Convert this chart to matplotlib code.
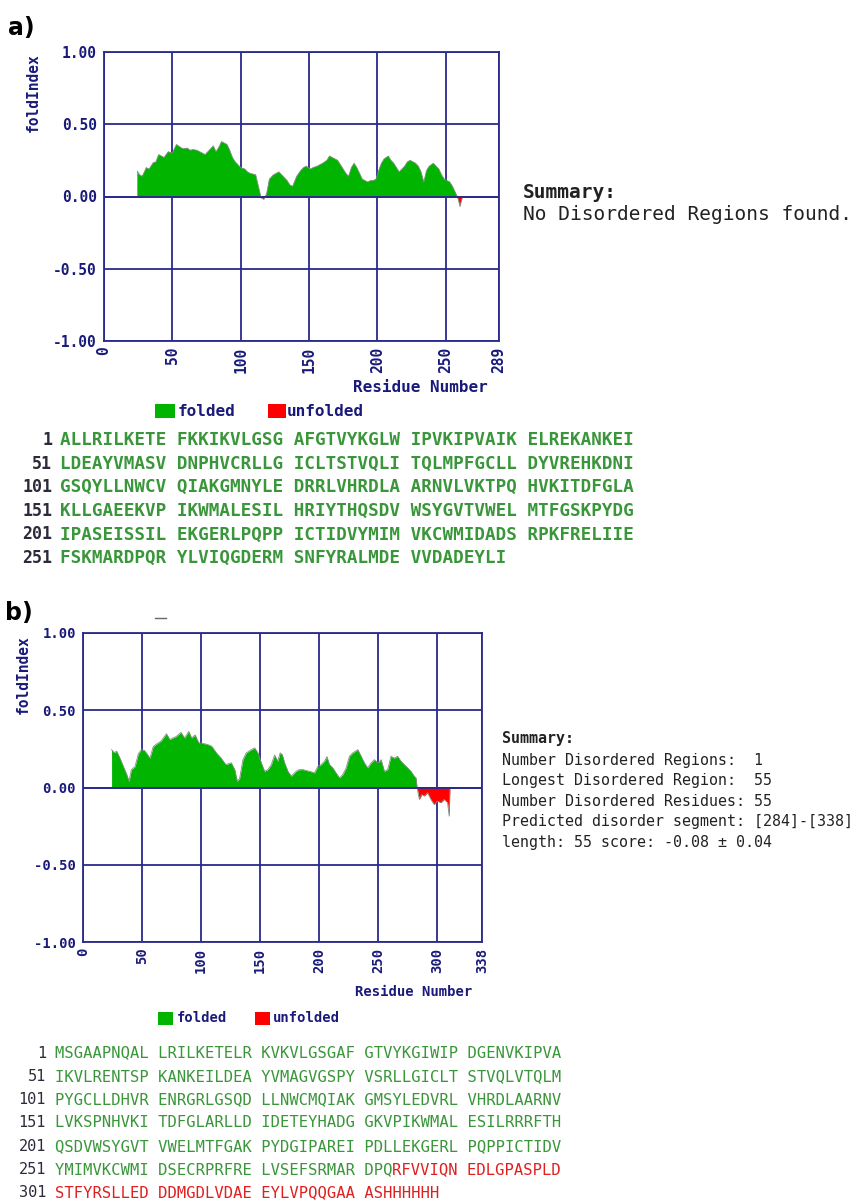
import matplotlib
matplotlib.use("Agg")
import matplotlib.pyplot as plt
import numpy as np
from matplotlib.patches import Rectangle
from matplotlib.lines import Line2D

W, H = 863, 1200
NAVY = "#2a2a8c"
TICK_NAVY = "#1a1a7a"
GREEN_FILL = "#00b400"
RED_FILL = "#ff0000"
SEQ_GREEN = "#3a963a"
SEQ_RED = "#e02020"
NUM_COLOR = "#2b2b3b"
MONO = "DejaVu Sans Mono"
MONO_ADVANCE = 1233 / 2048  # DejaVu Sans Mono glyph advance, in em

# ---- panel a: foldIndex profile ----
a_res = [24.4, 26, 28, 31, 33, 36, 38, 40, 42, 44, 47, 50, 53, 56, 58, 61, 63, 65, 68, 70,
         72, 74, 76, 78, 80, 82, 84, 86, 88, 90, 92, 94, 96, 98, 100, 103, 105, 107, 109, 111,
         113, 115, 117, 119, 121, 124, 126, 128, 130, 132, 134, 136, 138, 141, 144, 146, 148,
         151, 153, 156, 158, 160, 163, 165, 167, 169, 171, 173, 175, 177, 179, 181, 183, 185,
         187, 189, 191, 193, 195, 197, 199, 201, 203, 205, 208, 210, 212, 214, 216, 218, 220,
         222, 224, 226, 228, 230, 232, 234, 236, 238, 241, 243, 245, 247, 249, 251, 253, 255,
         257, 258.5, 259.5, 260.5, 261.5, 262.5]
a_val = [0.175, 0.15, 0.14, 0.20, 0.19, 0.233, 0.24, 0.29, 0.28, 0.27, 0.31, 0.30, 0.36, 0.34,
         0.33, 0.335, 0.32, 0.325, 0.32, 0.31, 0.30, 0.29, 0.31, 0.33, 0.35, 0.31, 0.34, 0.38,
         0.37, 0.36, 0.32, 0.27, 0.24, 0.22, 0.20, 0.19, 0.17, 0.16, 0.155, 0.15, 0.07, -0.01,
         -0.02, 0.02, 0.12, 0.15, 0.16, 0.17, 0.15, 0.13, 0.11, 0.08, 0.07, 0.14, 0.18, 0.20,
         0.21, 0.19, 0.20, 0.21, 0.22, 0.23, 0.25, 0.28, 0.27, 0.26, 0.25, 0.22, 0.19, 0.16,
         0.14, 0.20, 0.23, 0.20, 0.16, 0.12, 0.11, 0.10, 0.11, 0.11, 0.12, 0.18, 0.23, 0.26,
         0.28, 0.25, 0.23, 0.20, 0.17, 0.19, 0.21, 0.24, 0.25, 0.24, 0.23, 0.21, 0.17, 0.10,
         0.18, 0.21, 0.23, 0.21, 0.19, 0.15, 0.12, 0.11, 0.10, 0.07, 0.03, 0.0, -0.03, -0.07,
         -0.03, 0.0]

# ---- panel b: foldIndex profile ----
b_res = [24.2, 26.5, 28.5, 31.3, 34, 37, 39, 41, 44, 47, 49.6, 52, 54, 56.7, 59.5, 62, 64, 66,
         68, 70.7, 73.5, 76, 79, 83, 86, 89.6, 92, 95, 98, 102, 106, 109, 113, 117, 121, 125.6,
         128.5, 130.7, 132.7, 135.5, 138.3, 142.6, 145.4, 148.2, 151, 153.8, 156.7, 159.5,
         162.3, 165, 167, 168.8, 170.8, 173.6, 176.4, 180.6, 183, 186.3, 189, 191.9, 194,
         196.1, 198.9, 201.8, 204.6, 206.6, 208.8, 211.6, 214.4, 217.3, 220.1, 222.9, 225.7,
         228.5, 232.8, 235.6, 238.4, 241.2, 244, 246.9, 249.7, 252.5, 255.3, 258.1, 260.9,
         263.7, 266.5, 269.4, 272.2, 275, 277.8, 280.6, 282.1, 283, 283.5, 284.9, 287.1,
         289.1, 291.9, 294.7, 297.5, 300.3, 303.2, 306, 308.8, 310.2, 310.8]
b_val = [0.245, 0.225, 0.235, 0.19, 0.14, 0.085, 0.04, 0.115, 0.135, 0.22, 0.245, 0.24, 0.22,
         0.19, 0.265, 0.28, 0.29, 0.30, 0.32, 0.348, 0.31, 0.32, 0.33, 0.357, 0.32, 0.363, 0.32,
         0.34, 0.29, 0.285, 0.277, 0.267, 0.224, 0.19, 0.148, 0.16, 0.116, 0.04, 0.06, 0.18,
         0.224, 0.245, 0.256, 0.224, 0.16, 0.105, 0.116, 0.148, 0.21, 0.17, 0.224, 0.213,
         0.159, 0.105, 0.073, 0.105, 0.115, 0.116, 0.11, 0.105, 0.10, 0.094, 0.137, 0.148,
         0.17, 0.20, 0.148, 0.127, 0.094, 0.062, 0.084, 0.127, 0.202, 0.224, 0.245, 0.202,
         0.159, 0.127, 0.159, 0.18, 0.159, 0.18, 0.105, 0.116, 0.202, 0.19, 0.202, 0.17,
         0.148, 0.127, 0.105, 0.073, 0.062, 0.0, -0.02, -0.077, -0.045, -0.055, -0.034,
         -0.077, -0.11, -0.088, -0.098, -0.077, -0.098, -0.185, -0.01]

y_ticks = [-1.0, -0.5, 0.0, 0.5, 1.0]
y_labels = ["-1.00", "-0.50", "0.00", "0.50", "1.00"]
a_xticks = [0, 50, 100, 150, 200, 250, 289]
b_xticks = [0, 50, 100, 150, 200, 250, 300, 338]

seq_a_nums = [1, 51, 101, 151, 201, 251]
seq_a = [
    "ALLRILKETE FKKIKVLGSG AFGTVYKGLW IPVKIPVAIK ELREKANKEI",
    "LDEAYVMASV DNPHVCRLLG ICLTSTVQLI TQLMPFGCLL DYVREHKDNI",
    "GSQYLLNWCV QIAKGMNYLE DRRLVHRDLA ARNVLVKTPQ HVKITDFGLA",
    "KLLGAEEKVP IKWMALESIL HRIYTHQSDV WSYGVTVWEL MTFGSKPYDG",
    "IPASEISSIL EKGERLPQPP ICTIDVYMIM VKCWMIDADS RPKFRELIIE",
    "FSKMARDPQR YLVIQGDERM SNFYRALMDE VVDADEYLI",
]
seq_b_nums = [1, 51, 101, 151, 201, 251, 301]
# (green part, red part) for each row
seq_b = [
    ("MSGAAPNQAL LRILKETELR KVKVLGSGAF GTVYKGIWIP DGENVKIPVA", ""),
    ("IKVLRENTSP KANKEILDEA YVMAGVGSPY VSRLLGICLT STVQLVTQLM", ""),
    ("PYGCLLDHVR ENRGRLGSQD LLNWCMQIAK GMSYLEDVRL VHRDLAARNV", ""),
    ("LVKSPNHVKI TDFGLARLLD IDETEYHADG GKVPIKWMAL ESILRRRFTH", ""),
    ("QSDVWSYGVT VWELMTFGAK PYDGIPAREI PDLLEKGERL PQPPICTIDV", ""),
    ("YMIMVKCWMI DSECRPRFRE LVSEFSRMAR DPQ", "RFVVIQN EDLGPASPLD"),
    ("", "STFYRSLLED DDMGDLVDAE EYLVPQQGAA ASHHHHHH"),
]

summary_b = [
    "Number Disordered Regions:  1",
    "Longest Disordered Region:  55",
    "Number Disordered Residues: 55",
    "Predicted disorder segment: [284]-[338]",
    "length: 55 score: -0.08 \u00b1 0.04",
]


def fx(x):
    return x / W


def fy(y):
    return 1 - y / H


def add_axes_px(fig, x0, y0, x1, y1):
    return fig.add_axes([fx(x0), fy(y1), (x1 - x0) / W, (y1 - y0) / H])


def draw_panel(ax, res, val, xmax, xticks, fs):
    res = np.asarray(res)
    val = np.asarray(val)
    ax.set_xlim(0, xmax)
    ax.set_ylim(-1, 1)
    ax.set_axisbelow(True)
    ax.grid(True, color=NAVY, lw=1.3)
    ax.fill_between(res, val, 0, where=val >= 0, interpolate=True,
                    color=GREEN_FILL, lw=0, zorder=2)
    ax.fill_between(res, val, 0, where=val <= 0, interpolate=True,
                    color=RED_FILL, lw=0, zorder=2)
    ax.plot(res, val, color="#7f8f7f", lw=0.6, zorder=3)
    ax.axhline(0, color=NAVY, lw=1.3, zorder=4)
    for s in ax.spines.values():
        s.set_color(NAVY)
        s.set_linewidth(1.3)
    ax.set_yticks(y_ticks)
    ax.set_yticklabels(y_labels)
    ax.set_xticks(xticks)
    ax.set_xticklabels([str(t) for t in xticks], rotation=90)
    ax.tick_params(length=0, colors=TICK_NAVY, labelsize=fs)
    ax.tick_params(axis="y", pad=5)
    ax.tick_params(axis="x", pad=4)
    for lab in ax.get_xticklabels() + ax.get_yticklabels():
        lab.set_fontfamily(MONO)
        lab.set_fontweight("bold")


fig = plt.figure(figsize=(W / 100, H / 100), dpi=100)

# ---------------- panel a ----------------
fig.text(fx(8), fy(28), "a)", fontsize=17, fontweight="bold", va="center", ha="left")
ax_a = add_axes_px(fig, 104, 52, 499, 341)
draw_panel(ax_a, a_res, a_val, 289, a_xticks, 10.5)
fig.text(fx(33), fy(53), "foldIndex", rotation=90, va="top", ha="center",
         family=MONO, fontweight="bold", fontsize=10.5, color=TICK_NAVY)
fig.text(fx(420), fy(387), "Residue Number", ha="center", va="center",
         family=MONO, fontweight="bold", fontsize=11.5, color=TICK_NAVY)

fig.add_artist(Rectangle((fx(155), fy(418)), 20 / W, 14 / H, transform=fig.transFigure,
                         color=GREEN_FILL, lw=0))
fig.text(fx(178), fy(411), "folded", va="center", family=MONO, fontweight="bold",
         fontsize=11.5, color=TICK_NAVY)
fig.add_artist(Rectangle((fx(268), fy(418)), 18 / W, 14 / H, transform=fig.transFigure,
                         color=RED_FILL, lw=0))
fig.text(fx(287), fy(411), "unfolded", va="center", family=MONO, fontweight="bold",
         fontsize=11.5, color=TICK_NAVY)

fig.text(fx(523), fy(192), "Summary:", va="center", family=MONO, fontweight="bold",
         fontsize=14, color="#222222")
fig.text(fx(523), fy(215), "No Disordered Regions found.", va="center", family=MONO,
         fontsize=14, color="#222222")

for i, (num, row) in enumerate(zip(seq_a_nums, seq_a)):
    yy = 440 + i * 23.6
    fig.text(fx(52), fy(yy), str(num), ha="right", va="center", family=MONO,
             fontweight="bold", fontsize=12, color=NUM_COLOR)
    fig.text(fx(60), fy(yy), row, ha="left", va="center", family=MONO,
             fontweight="bold", fontsize=12.7, color=SEQ_GREEN)

# ---------------- panel b ----------------
fig.text(fx(5), fy(613), "b)", fontsize=17, fontweight="bold", va="center", ha="left")
fig.add_artist(Line2D([fx(155), fx(166)], [fy(618), fy(618)], transform=fig.transFigure,
                      color="#666666", lw=1))
ax_b = add_axes_px(fig, 83, 633, 482, 942)
draw_panel(ax_b, b_res, b_val, 338, b_xticks, 10)
fig.text(fx(23), fy(635), "foldIndex", rotation=90, va="top", ha="center",
         family=MONO, fontweight="bold", fontsize=10.5, color=TICK_NAVY)
fig.text(fx(414), fy(992), "Residue Number", ha="center", va="center",
         family=MONO, fontweight="bold", fontsize=10, color=TICK_NAVY)

fig.add_artist(Rectangle((fx(158), fy(1025)), 15 / W, 13 / H, transform=fig.transFigure,
                         color=GREEN_FILL, lw=0))
fig.text(fx(177), fy(1018), "folded", va="center", family=MONO, fontweight="bold",
         fontsize=10, color=TICK_NAVY)
fig.add_artist(Rectangle((fx(255), fy(1025)), 15 / W, 13 / H, transform=fig.transFigure,
                         color=RED_FILL, lw=0))
fig.text(fx(273), fy(1018), "unfolded", va="center", family=MONO, fontweight="bold",
         fontsize=10, color=TICK_NAVY)

fig.text(fx(502), fy(739), "Summary:", va="center", family=MONO, fontweight="bold",
         fontsize=10.8, color="#222222")
for i, line in enumerate(summary_b):
    fig.text(fx(502), fy(760 + i * 20.5), line, va="center", family=MONO,
             fontsize=10.8, color="#222222")

seq_b_fs = 11.2
char_px = MONO_ADVANCE * seq_b_fs * 100 / 72
for i, (num, (green, red)) in enumerate(zip(seq_b_nums, seq_b)):
    yy = 1053 + i * 23.3
    fig.text(fx(46), fy(yy), str(num), ha="right", va="center", family=MONO,
             fontsize=11, color=NUM_COLOR)
    if green:
        fig.text(fx(55), fy(yy), green, ha="left", va="center", family=MONO,
                 fontsize=seq_b_fs, color=SEQ_GREEN)
    if red:
        fig.text(fx(55 + len(green) * char_px), fy(yy), red, ha="left", va="center",
                 family=MONO, fontsize=seq_b_fs, color=SEQ_RED)

fig.savefig("out.png", dpi=100)
